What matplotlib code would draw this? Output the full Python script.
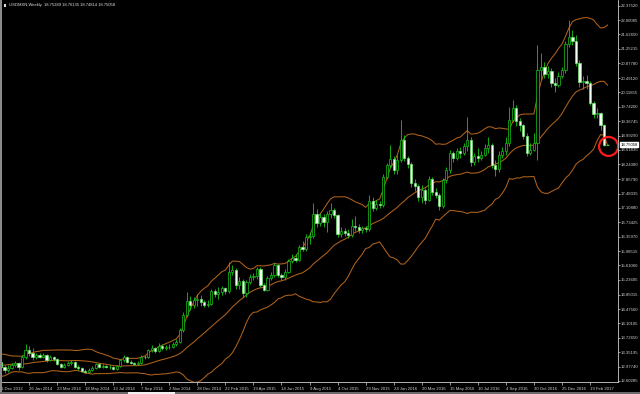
import matplotlib
matplotlib.use("Agg")
import matplotlib.pyplot as plt
import matplotlib.transforms as mtransforms
from matplotlib.patches import Ellipse, Rectangle
import numpy as np
import pandas as pd

# ---------------- data ----------------
title = "USDMXN,Weekly  18.75289 18.76135 18.74814 18.75058"
current_price_label = "18.75058"

# weekly closes before the first visible bar (used only for the Bollinger bands)
pre_closes = [12.80, 12.72, 12.75, 12.90, 13.10, 13.25, 13.28, 13.05, 12.90, 13.00,
              13.12, 13.05, 12.98, 12.92, 13.05, 13.12, 13.08, 13.10, 13.12]

first_open = 13.10
closes = [12.98, 12.88, 12.95, 13.03, 13.06, 12.96, 13.24, 13.40, 13.32, 13.24,
          13.28, 13.24, 13.27, 13.15, 13.22, 13.18, 13.05, 12.98, 13.03, 13.08,
          13.09, 12.98, 12.93, 12.87, 12.85, 12.90, 12.94, 13.04, 12.97, 12.99,
          12.96, 12.97, 12.92, 12.99, 13.15, 13.23, 13.10, 13.08, 13.05, 13.08,
          13.24, 13.22, 13.40, 13.46, 13.38, 13.52, 13.45, 13.48, 13.50, 13.56,
          13.62, 13.93, 14.32, 14.68, 14.58, 14.70, 14.75, 14.65, 14.58, 14.62,
          14.95, 14.86, 14.93, 15.02, 14.94, 15.45, 15.50, 15.10, 15.20, 14.90,
          15.18, 15.30, 15.34, 15.52, 15.10, 14.98, 15.28, 15.35, 15.62, 15.36,
          15.30, 15.45, 15.72, 15.80, 15.76, 16.10, 16.05, 16.35, 16.38, 16.95,
          16.71, 16.88, 16.75, 16.95, 17.05, 16.92, 16.42, 16.50, 16.45, 16.40,
          16.65, 16.60, 16.53, 16.58, 16.55, 17.30, 17.10, 17.22, 17.18, 17.92,
          18.22, 18.38, 18.10, 18.35, 18.88, 18.40, 18.25, 17.75, 17.68, 17.40,
          17.58, 17.32, 17.85, 17.53, 17.45, 17.15, 17.84, 18.10, 18.53, 18.40,
          18.60, 18.55, 18.72, 18.88, 18.31, 18.45, 18.40, 18.50, 18.68, 18.75,
          18.23, 18.12, 18.50, 18.58, 18.79, 19.40, 19.70, 19.36, 19.27, 18.97,
          18.55, 18.62, 18.80, 20.70, 20.78, 20.60, 20.68, 20.35, 20.30, 20.55,
          20.70, 21.38, 21.55, 21.46, 20.88, 20.38, 20.42, 20.35, 19.85, 19.55,
          19.58, 19.27, 18.75289, 18.75058]

highs = [13.28, 13.02, 13.02, 13.08, 13.12, 13.10, 13.27, 13.57, 13.52, 13.45,
         13.34, 13.32, 13.32, 13.30, 13.28, 13.26, 13.20, 13.08, 13.08, 13.12,
         13.14, 13.12, 13.02, 12.96, 12.92, 12.95, 12.99, 13.08, 13.07, 13.04,
         13.02, 13.01, 13.00, 13.03, 13.18, 13.27, 13.26, 13.14, 13.11, 13.12,
         13.27, 13.29, 13.44, 13.53, 13.50, 13.58, 13.56, 13.54, 13.56, 13.62,
         13.70, 13.98, 14.40, 14.93, 14.82, 14.80, 14.88, 14.85, 14.72, 14.70,
         15.01, 15.00, 15.05, 15.08, 15.06, 15.70, 15.62, 15.55, 15.30, 15.25,
         15.24, 15.38, 15.42, 15.58, 15.56, 15.16, 15.34, 15.45, 15.68, 15.66,
         15.42, 15.52, 15.78, 15.90, 15.92, 16.15, 16.26, 16.42, 16.48, 17.23,
         17.08, 16.98, 16.95, 17.02, 17.25, 17.10, 16.95, 16.62, 16.58, 16.55,
         16.82, 16.90, 16.70, 16.65, 16.65, 17.45, 17.40, 17.32, 17.30, 17.98,
         18.27, 18.75, 18.45, 18.48, 19.40, 19.00, 18.45, 18.30, 17.85, 17.72,
         17.70, 17.62, 17.95, 17.92, 17.62, 17.50, 17.90, 18.18, 18.62, 18.60,
         18.68, 18.70, 18.80, 19.49, 18.95, 18.55, 18.68, 18.60, 18.78, 18.95,
         18.80, 18.35, 18.58, 18.70, 18.95, 19.75, 19.92, 19.80, 19.45, 19.30,
         19.05, 18.80, 19.05, 21.35, 21.14, 20.90, 20.80, 20.75, 20.50, 20.65,
         20.78, 21.45, 22.00, 21.75, 21.62, 20.95, 20.55, 20.58, 20.42, 19.90,
         19.70, 19.62, 19.30, 18.76135]

lows = [12.87, 12.80, 12.84, 12.92, 12.98, 12.90, 12.93, 13.18, 13.25, 13.15,
        13.18, 13.19, 13.20, 13.10, 13.12, 13.12, 13.02, 12.94, 12.95, 13.00,
        13.03, 12.95, 12.90, 12.84, 12.82, 12.81, 12.86, 12.91, 12.94, 12.94,
        12.93, 12.92, 12.89, 12.90, 12.96, 13.10, 13.07, 13.04, 13.02, 13.02,
        13.05, 13.18, 13.19, 13.36, 13.33, 13.35, 13.40, 13.42, 13.44, 13.46,
        13.52, 13.58, 13.88, 14.28, 14.45, 14.50, 14.55, 14.55, 14.52, 14.52,
        14.58, 14.80, 14.75, 14.85, 14.88, 14.90, 15.35, 15.00, 15.00, 14.80,
        14.80, 15.12, 15.22, 15.25, 15.05, 14.94, 14.95, 15.22, 15.30, 15.30,
        15.22, 15.24, 15.42, 15.68, 15.70, 15.72, 15.98, 16.00, 16.18, 16.33,
        16.60, 16.65, 16.62, 16.48, 16.85, 16.85, 16.34, 16.35, 16.38, 16.33,
        16.36, 16.52, 16.45, 16.45, 16.48, 16.50, 17.02, 17.05, 17.10, 17.14,
        17.85, 18.15, 17.98, 18.00, 18.30, 18.32, 18.15, 17.65, 17.55, 17.30,
        17.25, 17.22, 17.28, 17.45, 17.38, 17.05, 17.10, 17.75, 18.02, 18.30,
        18.35, 18.42, 18.48, 18.60, 18.20, 18.22, 18.30, 18.35, 18.45, 18.55,
        18.15, 17.95, 18.05, 18.40, 18.50, 18.72, 19.35, 19.25, 19.10, 18.90,
        18.45, 18.50, 18.58, 18.36, 20.45, 20.50, 20.50, 20.25, 20.12, 20.25,
        20.48, 20.62, 21.30, 21.35, 20.80, 20.25, 20.20, 20.20, 19.80, 19.45,
        19.45, 19.15, 18.72, 18.74814]

date_labels = ["1 Dec 2013", "26 Jan 2014", "23 Mar 2014", "18 May 2014", "13 Jul 2014",
               "7 Sep 2014", "2 Nov 2014", "28 Dec 2014", "22 Feb 2015", "19 Apr 2015",
               "14 Jun 2015", "9 Aug 2015", "4 Oct 2015", "29 Nov 2015", "24 Jan 2016",
               "20 Mar 2016", "15 May 2016", "10 Jul 2016", "4 Sep 2016", "30 Oct 2016",
               "25 Dec 2016", "19 Feb 2017"]
weeks_between_labels = 8

price_labels = ["22.37520", "22.00085", "21.62650", "21.25215", "20.87780", "20.49120",
                "20.11655", "19.74200", "19.36745", "18.99290", "18.61835", "18.24380",
                "17.85790", "17.48335", "17.10880", "16.73425", "16.35970", "15.98515",
                "15.61060", "15.23605", "14.85015", "14.47560", "14.10105", "13.72650",
                "13.35195", "12.97740", "12.60285"]

# ---------------- derived ----------------
n = len(closes)
idx = np.arange(n)
opens = [first_open] + closes[:-1]
o = np.array(opens); c = np.array(closes); h = np.array(highs); l = np.array(lows)

allc = pd.Series(pre_closes + closes)
mid = allc.rolling(20).mean().values[len(pre_closes):]
sd = allc.rolling(20).std(ddof=0).values[len(pre_closes):]
upper = mid + 2 * sd
lower = mid - 2 * sd

# ---------------- figure ----------------
W, H = 640, 394
fig = plt.figure(figsize=(W / 100, H / 100), dpi=100, facecolor="black")
plot_w, plot_h = 618, 382
ax = fig.add_axes([0, (H - plot_h) / H, plot_w / W, plot_h / H])
ax.set_facecolor("black")

px_per_bar = 3.506
ax.set_xlim(-1 / px_per_bar, (plot_w - 1) / px_per_bar)
ax.set_ylim(12.5768, 22.5236)

band_col = "#b0621c"
for band in (upper, mid, lower):
    ax.plot(idx, band, color=band_col, lw=0.75, zorder=1)

green = "#16c816"
ax.vlines(idx, l, h, color=green, lw=0.6, zorder=2)
bull = c >= o
body_bottom = np.minimum(o, c)
body_h = np.maximum(np.abs(c - o), 0.004)
ax.bar(idx[bull], body_h[bull], bottom=body_bottom[bull], width=0.62,
       facecolor="black", edgecolor=green, linewidth=0.5, zorder=3)
ax.bar(idx[~bull], body_h[~bull], bottom=body_bottom[~bull], width=0.62,
       facecolor="#f4fff4", edgecolor="#6ee66e", linewidth=0.5, zorder=3)

# red circle around the last bar
ax.add_patch(Ellipse((idx[-1] + 0.3, c[-1] - 0.04), width=2 * 9.5 / px_per_bar,
                     height=2 * 9.5 * 0.026039, fill=False, edgecolor="#ff1a1a",
                     lw=1.6, zorder=5))

# axes styling
fg = "#cfcfcf"
for s in ("top", "left"):
    ax.spines[s].set_visible(False)
for s in ("right", "bottom"):
    ax.spines[s].set_color(fg)
    ax.spines[s].set_linewidth(0.6)

font = "Liberation Sans"
ax.yaxis.tick_right()
ax.set_yticks([float(v) for v in price_labels])
ax.set_yticklabels(price_labels, fontsize=3.05, color=fg, family=font)
ax.tick_params(axis="y", direction="out", length=1.6, width=0.5, color=fg, pad=0.6)

xt = [k * weeks_between_labels for k in range(len(date_labels))]
ax.set_xticks(xt)
ax.set_xticklabels(date_labels, fontsize=3.1, color=fg, family=font)
for t in ax.get_xticklabels():
    t.set_horizontalalignment("left")
ax.tick_params(axis="x", direction="out", length=2, width=0.5, color=fg, pad=1.5)

# current price box on the price scale
trans = mtransforms.blended_transform_factory(ax.transAxes, ax.transData)
ax.text(1.0035, c[-1], current_price_label, transform=trans, fontsize=3.05,
        family=font, color="black", va="center", ha="left", clip_on=False,
        bbox=dict(boxstyle="square,pad=0.12", facecolor="white", edgecolor="white"))

# title
fig.text(9 / W, 1 - 5 / H, title, fontsize=3.0, color="#e0e0e0", family=font,
         va="center", ha="left")
fig.patches.append(Rectangle((3.5 / W, 1 - 7 / H), 3 / W, 3 / H, transform=fig.transFigure,
                             facecolor="#e0e0e0", edgecolor="none"))

# window border on the left and scroll strip at the bottom
fig.patches.append(Rectangle((0, 0), 2 / W, 1, transform=fig.transFigure,
                             facecolor="#8a8a8a", edgecolor="none"))
fig.patches.append(Rectangle((0, 0), 1, 2 / H, transform=fig.transFigure,
                             facecolor="#6a6a6a", edgecolor="none"))
fig.patches.append(Rectangle((128 / W, 0), 47 / W, 2 / H, transform=fig.transFigure,
                             facecolor="#f0f0f0", edgecolor="none"))

fig.savefig("out.png", dpi=100, facecolor="black")
